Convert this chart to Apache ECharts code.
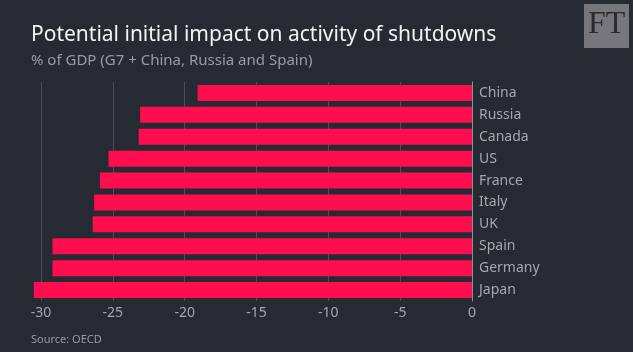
<!DOCTYPE html>
<html>
<head>
<meta charset="utf-8">
<script src="https://cdn.jsdelivr.net/npm/echarts@6/dist/echarts.min.js"></script>
<style>
  html, body { margin: 0; padding: 0; background: #262a33; }
  #main { width: 633px; height: 352px; }
</style>
</head>
<body>
<div id="main"></div>
<script>
// 国家（从上到下）
var countries = ['China', 'Russia', 'Canada', 'US', 'France', 'Italy', 'UK', 'Spain', 'Germany', 'Japan'];
// % of GDP
var impact = [-19.1, -23.1, -23.2, -25.3, -25.9, -26.3, -26.4, -29.2, -29.2, -30.5];
// x轴刻度
var xTicks = [-30, -25, -20, -15, -10, -5, 0];

var greyText = '#a4a7ad';
var fontFam = '"Noto Sans", sans-serif';

var myChart = echarts.init(document.getElementById('main'));
myChart.setOption({
  backgroundColor: '#262a33',
  animation: false,
  title: {
    text: 'Potential initial impact on activity of shutdowns',
    subtext: '% of GDP (G7 + China, Russia and Spain)',
    left: 26,
    top: 20,
    itemGap: 7,
    textStyle: { color: '#f2f2f2', fontSize: 21, fontWeight: 'normal', fontFamily: fontFam },
    subtextStyle: { color: '#9a9ca3', fontSize: 15, fontFamily: fontFam }
  },
  grid: { left: 41, right: 161, top: 82, bottom: 51 },
  xAxis: {
    type: 'value',
    min: xTicks[0],
    max: xTicks[xTicks.length - 1],
    interval: 5,
    axisLine: { show: false },
    axisTick: { show: false },
    axisLabel: { color: greyText, fontSize: 14, fontFamily: fontFam, margin: 5 },
    splitLine: { show: true, lineStyle: { color: '#4c4f57', width: 1 } }
  },
  yAxis: {
    type: 'category',
    data: countries,
    inverse: true,
    position: 'right',
    axisLine: { show: true, lineStyle: { color: '#8c8f95', width: 1 } },
    axisTick: { show: false },
    axisLabel: { color: greyText, fontSize: 14, fontFamily: fontFam, margin: 7 },
    splitLine: { show: false }
  },
  series: [{
    type: 'bar',
    data: impact,
    clip: false, // Japan 超出 -30
    barCategoryGap: '27%',
    itemStyle: { color: '#ff0d4f' }
  }],
  graphic: [
    {
      type: 'rect',
      left: 584, top: 4,
      shape: { width: 45, height: 44 },
      style: { fill: '#76767b' }
    },
    {
      type: 'text',
      left: 588, top: 9,
      style: { text: 'FT', fill: '#2a2b30', font: '32px "Liberation Serif", serif' }
    },
    {
      type: 'text',
      left: 31, top: 334,
      style: { text: 'Source: OECD', fill: '#9a9ca3', font: '11px "Noto Sans", sans-serif' }
    }
  ]
});
</script>
</body>
</html>
